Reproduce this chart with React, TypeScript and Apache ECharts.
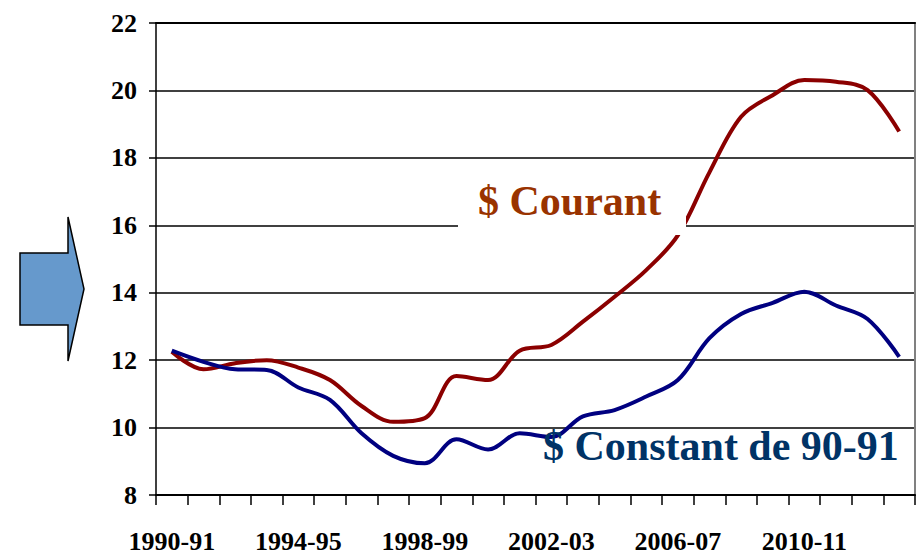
import React, { useEffect, useRef } from "react";
import * as echarts from "echarts";

const categories = [
  "1990-91", "1991-92", "1992-93", "1993-94", "1994-95", "1995-96",
  "1996-97", "1997-98", "1998-99", "1999-00", "2000-01", "2001-02",
  "2002-03", "2003-04", "2004-05", "2005-06", "2006-07", "2007-08",
  "2008-09", "2009-10", "2010-11", "2011-12", "2012-13", "2013-14",
];

const courant = [
  12.25, 11.73, 11.91, 12.0, 11.78, 11.41, 10.64, 10.17, 10.28, 11.53, 11.41, 12.28,
  12.45, 13.14, 13.88, 14.67, 15.7, 17.57, 19.22, 19.86, 20.31, 20.26, 20.01, 18.78,
];

const constant9091 = [
  12.28, 11.95, 11.73, 11.71, 11.19, 10.82, 9.83, 9.16, 8.94, 9.65, 9.35, 9.83,
  9.72, 10.33, 10.52, 10.92, 11.41, 12.65, 13.37, 13.7, 14.03, 13.62, 13.22, 12.1,
];

const yTicks = { min: 8, max: 22, interval: 2 };
const labelCourant = "$ Courant";
const labelConstant = "$ Constant de 90-91";

const FONT = "'Liberation Serif', 'Times New Roman', serif";

export default function App() {
  const ref = useRef<HTMLDivElement>(null);

  useEffect(() => {
    if (!ref.current) return;
    const chart = echarts.init(ref.current, undefined, { renderer: "svg" });
    chart.setOption({
      animation: false,
      backgroundColor: "#ffffff",
      grid: { left: 156, right: 2, top: 23, bottom: 65, containLabel: false },
      xAxis: [
        {
          type: "category",
          data: categories,
          boundaryGap: true,
          axisLine: { show: true, lineStyle: { color: "#000", width: 2 } },
          axisTick: { show: true, interval: 0, length: 10, lineStyle: { color: "#000", width: 1.5 } },
          axisLabel: {
            interval: 3,
            margin: 33,
            color: "#000",
            fontFamily: FONT,
            fontWeight: "bold",
            fontSize: 26,
          },
          splitLine: { show: false },
        },
        {
          type: "category",
          data: categories,
          position: "top",
          axisLine: { show: true, lineStyle: { color: "#000", width: 2 } },
          axisTick: { show: false },
          axisLabel: { show: false },
          splitLine: { show: false },
        },
      ],
      yAxis: [
        {
          type: "value",
          min: yTicks.min,
          max: yTicks.max,
          interval: yTicks.interval,
          axisLine: { show: true, lineStyle: { color: "#000", width: 1.5 } },
          axisTick: { show: true, length: 7, lineStyle: { color: "#000", width: 1.5 } },
          axisLabel: {
            margin: 19,
            color: "#000",
            fontFamily: FONT,
            fontWeight: "bold",
            fontSize: 26,
          },
          splitLine: { show: true, lineStyle: { color: "#000", width: 1.5 } },
        },
        {
          type: "value",
          min: yTicks.min,
          max: yTicks.max,
          interval: yTicks.interval,
          position: "right",
          axisLine: { show: true, lineStyle: { color: "#808080", width: 2 } },
          axisTick: { show: false },
          axisLabel: { show: false },
          splitLine: { show: false },
        },
      ],
      series: [
        {
          name: labelCourant,
          type: "line",
          data: courant,
          smooth: 0.35,
          showSymbol: false,
          lineStyle: { color: "#8B0000", width: 4 },
          itemStyle: { color: "#8B0000" },
          z: 3,
        },
        {
          name: labelConstant,
          type: "line",
          data: constant9091,
          smooth: 0.35,
          showSymbol: false,
          lineStyle: { color: "#000080", width: 4 },
          itemStyle: { color: "#000080" },
          z: 3,
        },
      ],
      graphic: [
        {
          type: "rect",
          z: 50,
          shape: { x: 458, y: 178, width: 228, height: 57 },
          style: { fill: "#ffffff" },
        },
        {
          type: "text",
          z: 51,
          x: 478,
          y: 201,
          style: {
            text: labelCourant,
            fill: "#993300",
            font: `bold 42px ${FONT}`,
            verticalAlign: "middle",
            align: "left",
          },
        },
        {
          type: "text",
          z: 51,
          x: 543,
          y: 446,
          style: {
            text: labelConstant,
            fill: "#003366",
            font: `bold 42px ${FONT}`,
            verticalAlign: "middle",
            align: "left",
          },
        },
        {
          type: "polygon",
          z: 51,
          shape: {
            points: [
              [20, 253],
              [68, 253],
              [68, 217],
              [84, 289],
              [68, 361],
              [68, 325],
              [20, 325],
            ],
          },
          style: { fill: "#6699CC", stroke: "#000", lineWidth: 1.5 },
        },
      ],
    });
    return () => chart.dispose();
  }, []);

  return <div ref={ref} style={{ width: 917, height: 560, position: "absolute", left: 0, top: 0 }} />;
}
